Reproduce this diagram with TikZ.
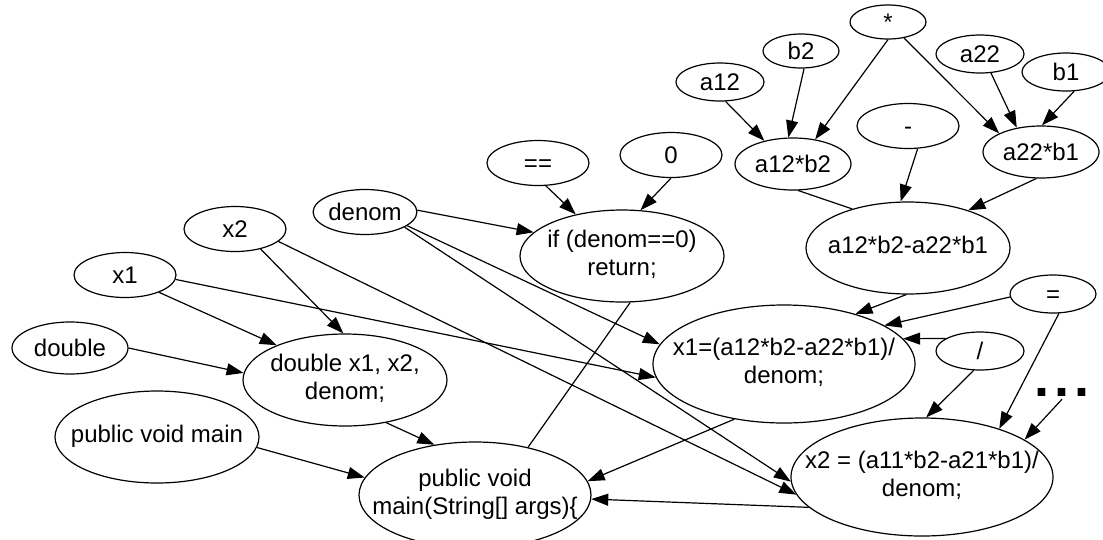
\documentclass[tikz,border=0pt]{standalone}
\usepackage{fontspec}
\setmainfont{Liberation Sans}
\usetikzlibrary{arrows.meta,shapes.geometric}
\newcommand{\lbl}[1]{\makebox[0pt]{\begin{tabular}{@{}c@{}}#1\end{tabular}}}

\begin{document}
\begin{tikzpicture}[
  x=1pt, y=-1pt,
  font=\fontsize{24}{27.5}\selectfont,
  term/.style={ellipse, draw, line width=1.2pt, inner sep=0pt},
  leaf/.style={term, text height=17pt, text depth=0pt},
  op/.style={leaf, minimum width=76pt, minimum height=34pt},
  var/.style={leaf, minimum width=88pt, minimum height=38pt},
  word/.style={leaf, minimum width=102pt, minimum height=45pt},
  prod/.style={leaf, minimum width=116pt, minimum height=52pt},
  stmt/.style={term, minimum width=204pt, minimum height=92pt},
  expr/.style={term, minimum width=262pt, minimum height=118pt},
  arr/.style={-{Triangle[length=17pt,width=12pt]}, line width=1.2pt},
  link/.style={line width=1.2pt}
]
\useasboundingbox (0,0) rectangle (1103,539);

\node[op] (mul) at (888,22) {*};
\node[op] (b2) at (801,51) {b2};
\node[var] (a12) at (720,82) {a12};
\node[var] (a22) at (980,54) {a22};
\node[var] (b1) at (1066,72) {b1};
\node[word] (minus) at (908,126) {-};
\node[word] (zero) at (671,155) {0};
\node[word] (eqeq) at (538,163) {==};
\node[prod] (prodl) at (793,164) {a12*b2};
\node[prod] (prodr) at (1041,152) {a22*b1};
\node[stmt] (diff) at (908,248) {\lbl{a12*b2-a22*b1}};
\node[stmt] (ifret) at (622,256) {\lbl{if (denom==0)\\return;}};
\node[word] (denom) at (365,212) {denom};
\node[word] (x2) at (235,229) {x2};
\node[word] (x1) at (125,275) {x1};
\node[prod] (dbl) at (70,348) {double};
\node[stmt] (decl) at (345,380) {\lbl{double x1, x2,\\denom;}};
\node[stmt] (pvm) at (157,437) {\lbl{public void main}};
\node[term, minimum width=232pt, minimum height=106pt] (mainfn) at (475,495) {\lbl{public void\\main(String[] args)\{}};
\node[var, minimum width=86pt] (assign) at (1053,294) {=};
\node[var] (divide) at (980,351) {/};
\node[expr] (setx1) at (784,364) {\lbl{x1=(a12*b2-a22*b1)/\\denom;}};
\node[expr] (setx2) at (922,477) {\lbl{x2 = (a11*b2-a21*b1)/\\denom;}};
\node[inner sep=3pt, font=\fontsize{54}{54}\selectfont\bfseries] (dots) at (1062,392) {.\hspace{5.5pt}.\hspace{5.5pt}.};

\draw[arr] (a12.-74) -- (prodl.141);
\draw[arr] (b2.-80) -- (prodl.100);
\draw[arr] (mul.-90) -- (prodl.48);
\draw[arr] (mul.-45) -- (prodr.156);
\draw[arr] (a22.-60) -- (prodr.135);
\draw[arr] (b1.-67) -- (prodr.88);
\draw[arr] (minus.-67) -- (diff.99);
\draw[arr] (prodr.-100) -- (diff.32);
\draw[link] (prodl.-79) -- (diff.145);
\draw[arr] (zero.-90) -- (ifret.68);
\draw[arr] (eqeq.-71) -- (ifret.138);
\draw[arr] (denom.2) -- (ifret.165);
\draw[arr] (denom.-18) -- (setx1.171);
\draw[arr] (denom.-21) -- (setx2.182);
\draw[arr] (x2.-16) -- (setx2.188);
\draw[arr] (x1.-5) -- (setx1.186);
\draw[arr] (x1.-27) -- (decl.153);
\draw[arr] (x2.-38) -- (decl.92);
\draw[arr] (dbl.0) -- (decl.176);
\draw[arr] (decl.-46) -- (mainfn.129);
\draw[arr] (pvm.-6) -- (mainfn.171);
\draw[link] (ifret.-80) -- (mainfn.42);
\draw[arr] (setx1.-132) -- (mainfn.7);
\draw[arr] (setx2.-165) -- (mainfn.-2);
\draw[arr] (diff.-92) -- (setx1.35);
\draw[arr] (assign.-176) -- (setx1.21);
\draw[arr] (divide.160) -- (setx1.12);
\draw[arr] (divide.-108) -- (setx2.86);
\draw[arr] (assign.-73) -- (setx2.32);
\draw[arr] (dots.south) -- (setx2.20);
\end{tikzpicture}
\end{document}
